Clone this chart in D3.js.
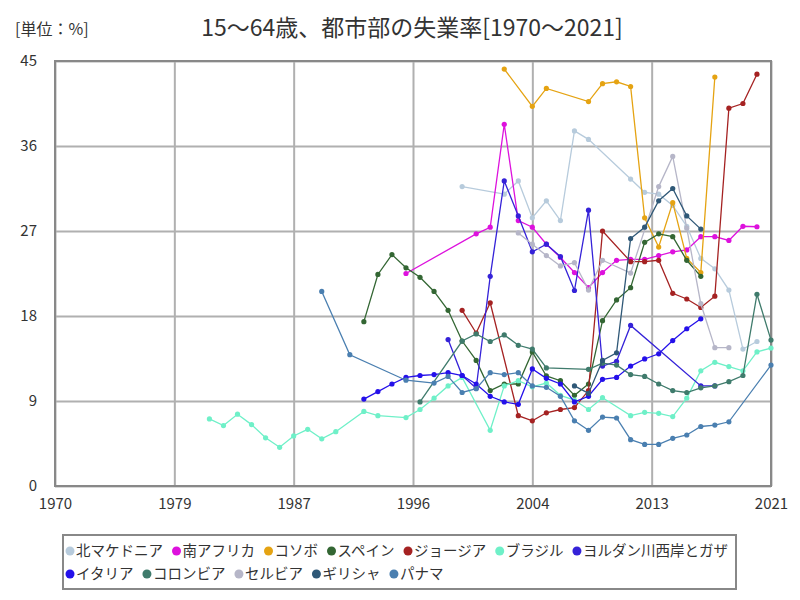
<!DOCTYPE html>
<html>
<head>
<meta charset="utf-8">
<script src="https://cdn.jsdelivr.net/npm/d3@7"></script>
<style>
  body { margin: 0; background: #fff; }
  text { font-family: "Noto Sans CJK JP", "Noto Sans", sans-serif; }
</style>
</head>
<body>
<svg id="chart" width="800" height="600"></svg>
<script>
// ---- data ----
var x_tick_values = [1970, 1978.5, 1987, 1995.5, 2004, 2012.5, 2021];
var x_tick_labels = ["1970", "1979", "1987", "1996", "2004", "2013", "2021"];
var y_tick_values = [0, 9, 18, 27, 36, 45];

var years_mk = [1999, 2002, 2003, 2004, 2005, 2006, 2007, 2008, 2011, 2012, 2013, 2014, 2015, 2016, 2017, 2018, 2019, 2020];
var vals_mk  = [31.7, 30.9, 32.3, 28.4, 30.2, 28.1, 37.6, 36.7, 32.5, 31.1, 30.9, 29.7, 27.5, 24.1, 23.0, 20.75, 14.5, 15.3];

var years_za = [1995, 2000, 2001, 2002, 2003, 2004, 2005, 2006, 2007, 2008, 2009, 2010, 2011, 2012, 2013, 2014, 2015, 2016, 2017, 2018, 2019, 2020];
var vals_za  = [22.5, 26.7, 27.4, 38.3, 28.1, 27.4, 25.6, 24.2, 22.6, 21.0, 22.6, 23.9, 24.0, 24.0, 24.4, 24.8, 25.0, 26.4, 26.4, 26.0, 27.5, 27.45];

var years_xk = [2002, 2004, 2005, 2008, 2009, 2010, 2011, 2012, 2013, 2014, 2015, 2016, 2017];
var vals_xk  = [44.15, 40.2, 42.1, 40.7, 42.6, 42.8, 42.3, 28.4, 25.3, 30.0, 24.1, 22.6, 43.3];

var years_es = [1992, 1993, 1994, 1995, 1996, 1997, 1998, 1999, 2000, 2001, 2002, 2003, 2004, 2005, 2006, 2007, 2008, 2009, 2010, 2011, 2012, 2013, 2014, 2015, 2016];
var vals_es  = [17.4, 22.4, 24.5, 23.1, 22.1, 20.6, 18.6, 15.35, 13.3, 10.1, 10.8, 10.8, 14.2, 11.65, 11.15, 9.6, 10.8, 17.5, 19.7, 21.0, 25.8, 26.7, 26.4, 23.9, 22.2];

var years_ge = [1999, 2000, 2001, 2003, 2004, 2005, 2006, 2007, 2008, 2009, 2011, 2012, 2013, 2014, 2015, 2016, 2017, 2018, 2019, 2020];
var vals_ge  = [18.6, 16.2, 19.4, 7.45, 6.9, 7.75, 8.1, 8.3, 10.1, 27.0, 23.75, 23.75, 23.9, 20.4, 19.8, 18.9, 20.1, 40.0, 40.5, 43.6];

var years_br = [1981, 1982, 1983, 1984, 1985, 1986, 1987, 1988, 1989, 1990, 1992, 1993, 1995, 1996, 1997, 1998, 1999, 2001, 2002, 2003, 2004, 2005, 2006, 2007, 2008, 2009, 2011, 2012, 2013, 2014, 2015, 2016, 2017, 2018, 2019, 2020, 2021];
var vals_br  = [7.1, 6.4, 7.6, 6.5, 5.1, 4.1, 5.3, 6.0, 5.0, 5.75, 7.9, 7.45, 7.25, 8.1, 9.3, 10.6, 11.5, 5.9, 10.6, 11.15, 10.5, 10.9, 9.6, 9.1, 8.1, 9.35, 7.45, 7.8, 7.7, 7.35, 9.3, 12.2, 13.1, 12.65, 12.2, 14.2, 14.6];

var years_ps = [1998, 1999, 2000, 2001, 2002, 2003, 2004, 2005, 2006, 2007, 2008, 2009, 2010, 2011, 2016, 2017];
var vals_ps  = [15.5, 11.7, 10.35, 22.2, 32.3, 28.6, 24.8, 25.6, 24.3, 20.7, 29.2, 12.7, 13.2, 17.0, 10.6, 10.6];

var years_it = [1992, 1993, 1994, 1995, 1996, 1997, 1998, 1999, 2000, 2001, 2002, 2003, 2004, 2005, 2006, 2007, 2008, 2009, 2010, 2011, 2012, 2013, 2014, 2015, 2016];
var vals_it  = [9.2, 10.0, 10.8, 11.5, 11.7, 11.8, 12.0, 11.7, 10.8, 9.5, 8.9, 8.65, 12.4, 11.4, 10.8, 8.9, 9.5, 11.3, 11.5, 12.7, 13.45, 14.0, 15.4, 16.65, 17.7];

var years_co = [1996, 1999, 2000, 2001, 2002, 2003, 2004, 2005, 2008, 2009, 2010, 2011, 2012, 2013, 2014, 2015, 2016, 2017, 2018, 2019, 2020, 2021];
var vals_co  = [8.9, 15.35, 16.1, 15.3, 16.0, 14.9, 14.5, 12.5, 12.35, 13.0, 12.8, 11.8, 11.6, 10.8, 10.1, 9.9, 10.4, 10.6, 11.05, 11.7, 20.3, 15.45];

var years_rs = [2003, 2004, 2005, 2006, 2007, 2008, 2009, 2011, 2013, 2014, 2015, 2016, 2017, 2018];
var vals_rs  = [26.8, 25.6, 24.4, 23.3, 23.65, 20.75, 23.9, 22.55, 31.7, 34.9, 27.3, 19.3, 14.65, 14.65];

var years_gr = [2007, 2008, 2009, 2010, 2011, 2012, 2013, 2014, 2015, 2016];
var vals_gr  = [10.6, 9.8, 13.3, 14.1, 26.2, 27.4, 30.2, 31.5, 28.6, 27.2];

var years_pa = [1989, 1991, 1995, 1997, 1998, 1999, 2000, 2001, 2002, 2003, 2004, 2005, 2006, 2007, 2008, 2009, 2010, 2011, 2012, 2013, 2014, 2015, 2016, 2017, 2018, 2021];
var vals_pa  = [20.6, 13.9, 11.2, 10.9, 11.6, 9.9, 10.3, 12.0, 11.8, 12.0, 10.6, 10.45, 9.5, 6.9, 5.9, 7.3, 7.2, 4.9, 4.4, 4.4, 5.05, 5.4, 6.3, 6.45, 6.8, 12.8];

var series_names = ["北マケドニア", "南アフリカ", "コソボ", "スペイン", "ジョージア", "ブラジル", "ヨルダン川西岸とガザ",
                    "イタリア", "コロンビア", "セルビア", "ギリシャ", "パナマ"];
var series_colors = ["#b7cbdc", "#dd11dd", "#e5a312", "#336633", "#a52222", "#6ff0c8", "#3522d8",
                     "#2410ea", "#3f7b6c", "#b6b6c8", "#2f5877", "#4a7fb0"];
var series_years = [years_mk, years_za, years_xk, years_es, years_ge, years_br, years_ps, years_it, years_co, years_rs, years_gr, years_pa];
var series_vals  = [vals_mk, vals_za, vals_xk, vals_es, vals_ge, vals_br, vals_ps, vals_it, vals_co, vals_rs, vals_gr, vals_pa];

// ---- chart ----
const margin = {top: 61, right: 29, bottom: 114, left: 55},
      width = 800 - margin.left - margin.right,
      height = 600 - margin.top - margin.bottom;

const svg1 = d3.select("#chart");
var svg = svg1.append("g").attr("transform", `translate(${margin.left},${margin.top})`);

const x = d3.scaleLinear().domain([1970, 2021]).range([0, width]);
const y = d3.scaleLinear().domain([0, 45]).range([height, 0]);

/** grid + tick labels */
svg.append("g")
    .attr("class", "g_X")
    .attr("transform", `translate(0, ${height})`)
    .call(d3.axisBottom(x).tickValues(x_tick_values)
        .tickFormat((d, i) => x_tick_labels[i]).tickSize(-height).tickPadding(12))
    .call(g => g.select(".domain").remove())
    .call(g => g.selectAll("line").attr("stroke", "#b0b0b0").attr("stroke-width", 2))
    .call(g => g.selectAll("text").attr("font-size", 15).attr("fill", "#333"));

svg.append("g")
    .attr("class", "g_Y")
    .call(d3.axisLeft(y).tickValues(y_tick_values).tickSize(-width).tickPadding(18))
    .call(g => g.select(".domain").remove())
    .call(g => g.selectAll("line").attr("stroke", "#b0b0b0").attr("stroke-width", 2))
    .call(g => g.selectAll("text").attr("font-size", 15).attr("fill", "#333").attr("dy", "0.32em"));

svg.append("rect")
    .attr("width", width).attr("height", height)
    .attr("fill", "none").attr("stroke", "#888").attr("stroke-width", 2);

/** lines + points */
var line = d3.line()
    .x(function(d) { return x(d[0]); })
    .y(function(d) { return y(d[1]); });

var series = series_names.map(function(n, i) {
    return {name: n, color: series_colors[i], pts: d3.zip(series_years[i], series_vals[i])};
});

var groups = svg.selectAll(".series").data(series).join("g").attr("class", "series");
groups.append("path")
    .attr("fill", "none")
    .attr("stroke", d => d.color)
    .attr("stroke-width", 1.3)
    .attr("d", d => line(d.pts));
groups.selectAll("circle")
    .data(d => d.pts.map(p => ({p: p, color: d.color})))
    .join("circle")
    .attr("r", 2.6)
    .attr("cx", d => x(d.p[0]))
    .attr("cy", d => y(d.p[1]))
    .attr("fill", d => d.color);

/** titles */
svg1.append("text")
    .attr("x", 412).attr("y", 36)
    .attr("text-anchor", "middle")
    .attr("font-size", 23)
    .attr("fill", "#333")
    .text("15～64歳、都市部の失業率[1970～2021]");
svg1.append("text")
    .attr("x", 15).attr("y", 35)
    .attr("font-size", 16)
    .attr("fill", "#333")
    .text("[単位：%]");

/** legend */
var legend = svg1.append("g").attr("class", "legend");
legend.append("rect")
    .attr("x", 63).attr("y", 535).attr("width", 673).attr("height", 54)
    .attr("fill", "#fff").attr("stroke", "#888").attr("stroke-width", 2);

var rows = [series.slice(0, 7), series.slice(7)];
rows.forEach(function(row, r) {
    var cx = 70;
    var cy = 551 + r * 23;
    row.forEach(function(s) {
        legend.append("circle").attr("cx", cx).attr("cy", cy).attr("r", 4.5).attr("fill", s.color);
        var t = legend.append("text")
            .attr("x", cx + 6).attr("y", cy).attr("dy", "0.35em")
            .attr("font-size", 14.5).attr("fill", "#333")
            .text(s.name);
        cx += 6 + t.node().getComputedTextLength() + 13.5;
    });
});
</script>
</body>
</html>
